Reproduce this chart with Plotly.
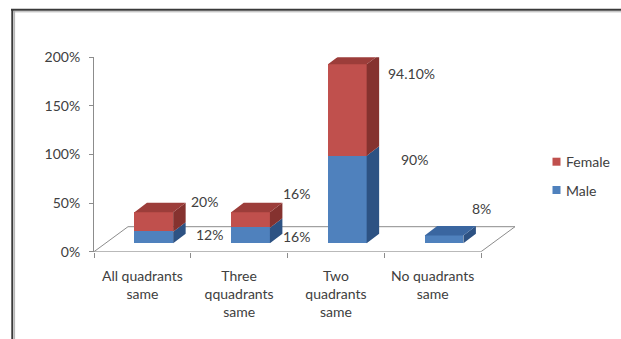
import plotly.graph_objects as go

# ---- data -------------------------------------------------------------
categories = ["All quadrants<br>same", "Three<br>qquadrants<br>same",
              "Two<br>quadrants<br>same", "No quadrants<br>same"]
male = [12, 16, 90, 8]
female = [20, 16, 94.1, 0]
y_ticks = [0, 50, 100, 150, 200]
y_tick_text = [f"{t}%" for t in y_ticks]
legend_names = ["Female", "Male"]

# per-label pixel nudges (dx, dy) for the value labels
male_label_nudge = [(8, -2), (-1, -6), (20, 35), (-6, 26)]
female_label_nudge = [(3, 16), (-1, 22), (7, 32), (0, 0)]

# ---- geometry (pixels) ------------------------------------------------
W, H = 621, 339
PL, PR, PT, PB = 94, 530, 57.3, 251.7
UX = 96.75                     # px per category
UY = (PB - PT) / 200.0         # px per percent
x_max = (PR - PL) / UX


def px2x(p):
    return p / UX


def px2y(p):
    return p / UY


FLOOR = (px2x(34), px2y(25))          # floor depth vector
BAR_W = px2x(38.7)
BAR_FRONT = 0.336                     # bar front position in floor depth
BAR_DEPTH = (px2x(12.5), px2y(9.5))   # bar depth vector
front_dx = FLOOR[0] * BAR_FRONT
front_dy = FLOOR[1] * BAR_FRONT

RED, RED_SIDE, RED_TOP = "#C0504D", "#85322F", "#9C3D3A"
BLUE, BLUE_SIDE, BLUE_TOP = "#4F81BD", "#2D5283", "#3A66A0"
TXT = "#404040"
AX = "#8C8C8C"
FONT = "Lato"

n = len(categories)
xc = [i + 0.5 + front_dx for i in range(n)]
male_base = [front_dy] * n
female_base = [front_dy + m for m in male]

fig = go.Figure()

# front faces
fig.add_trace(go.Bar(x=xc, y=male, base=male_base, width=BAR_W,
                     marker=dict(color=BLUE, line=dict(width=0)),
                     name="Male", showlegend=False, cliponaxis=False))
fig.add_trace(go.Bar(x=xc, y=female, base=female_base, width=BAR_W,
                     marker=dict(color=RED, line=dict(width=0)),
                     name="Female", showlegend=False, cliponaxis=False))


def side_faces(vals, bases):
    xs, ys = [], []
    ddx, ddy = BAR_DEPTH
    for x, v, b in zip(xc, vals, bases):
        if v <= 0:
            continue
        xr = x + BAR_W / 2
        xs += [xr, xr + ddx, xr + ddx, xr, xr, None]
        ys += [b, b + ddy, b + v + ddy, b + v, b, None]
    return xs, ys


def top_faces(vals, bases, is_top):
    xs, ys = [], []
    ddx, ddy = BAR_DEPTH
    for x, v, b, t in zip(xc, vals, bases, is_top):
        if v <= 0 or not t:
            continue
        xl, xr = x - BAR_W / 2, x + BAR_W / 2
        yt = b + v
        xs += [xl, xl + ddx, xr + ddx, xr, xl, None]
        ys += [yt, yt + ddy, yt + ddy, yt, yt, None]
    return xs, ys


male_is_top = [f <= 0 for f in female]
female_is_top = [f > 0 for f in female]

for (xs, ys), col in [
    (side_faces(male, male_base), BLUE_SIDE),
    (side_faces(female, female_base), RED_SIDE),
    (top_faces(male, male_base, male_is_top), BLUE_TOP),
    (top_faces(female, female_base, female_is_top), RED_TOP),
]:
    fig.add_trace(go.Scatter(x=xs, y=ys, mode="lines", fill="toself",
                             fillcolor=col, line=dict(width=0, color=col),
                             hoverinfo="skip", showlegend=False,
                             cliponaxis=False))


# value labels
def fmt(v):
    return f"{v:.0f}%" if float(v).is_integer() else f"{v:.2f}%"


ddx, ddy = BAR_DEPTH
for vals, bases, nudges in [(male, male_base, male_label_nudge),
                            (female, female_base, female_label_nudge)]:
    for x, v, b, (nx, ny) in zip(xc, vals, bases, nudges):
        if v <= 0:
            continue
        fig.add_annotation(x=x + BAR_W / 2 + ddx, y=b + v / 2 + ddy / 2,
                           text=fmt(v), showarrow=False,
                           xanchor="left", yanchor="middle",
                           xshift=nx, yshift=ny,
                           font=dict(family=FONT, size=14, color=TXT))

shapes = []
# floor parallelogram, drawn beneath the bars
fx, fy = FLOOR
shapes.append(dict(type="path", xref="x", yref="y", layer="below",
                   path=f"M 0,0 L {n},0 L {n + fx},{fy} L {fx},{fy} Z",
                   line=dict(color=AX, width=1), fillcolor="white"))

# legend swatches
leg_y = [161.7, 190.0]
leg_cols = [RED, BLUE]
for name, yy, col in zip(legend_names, leg_y, leg_cols):
    shapes.append(dict(type="rect", xref="paper", yref="paper",
                       x0=552.5 / W, x1=560.5 / W,
                       y0=1 - (yy + 4) / H, y1=1 - (yy - 4) / H,
                       line=dict(width=0), fillcolor=col))
    fig.add_annotation(xref="paper", yref="paper", x=564 / W, y=1 - yy / H,
                       text=name, showarrow=False, xanchor="left",
                       yanchor="middle",
                       font=dict(family=FONT, size=14, color=TXT))

# outer frame (top and left edges)
shapes += [
    dict(type="line", xref="paper", yref="paper", x0=11 / W, x1=1,
         y0=1 - 9.7 / H, y1=1 - 9.7 / H, line=dict(color="#3A3A3A", width=2)),
    dict(type="line", xref="paper", yref="paper", x0=13.5 / W, x1=1,
         y0=1 - 11.8 / H, y1=1 - 11.8 / H, line=dict(color="#B0B0B0", width=1)),
    dict(type="line", xref="paper", yref="paper", x0=12.3 / W, x1=12.3 / W,
         y0=1 - 9 / H, y1=0, line=dict(color="#3A3A3A", width=2)),
    dict(type="line", xref="paper", yref="paper", x0=14.6 / W, x1=14.6 / W,
         y0=1 - 11 / H, y1=0, line=dict(color="#B0B0B0", width=1)),
]

fig.update_layout(
    width=W, height=H,
    margin=dict(l=0, r=0, t=0, b=0, pad=0),
    paper_bgcolor="white", plot_bgcolor="white",
    barmode="overlay", bargap=0,
    showlegend=False,
    shapes=shapes,
    font=dict(family=FONT, size=14, color=TXT),
    xaxis=dict(domain=[PL / W, PR / W], range=[0, x_max], automargin=False,
               tickmode="array", tickvals=[i + 0.5 for i in range(n)],
               ticktext=categories, ticks="", showline=False,
               showgrid=False, zeroline=False, fixedrange=True,
               ticklabelstandoff=14,
               tickfont=dict(family=FONT, size=14, color=TXT),
               minor=dict(tickmode="array", tickvals=list(range(n + 1)),
                          ticks="outside", ticklen=5, tickwidth=1,
                          tickcolor=AX, showgrid=False)),
    yaxis=dict(domain=[1 - PB / H, 1 - PT / H], range=[0, 200],
               automargin=False,
               tickmode="array", tickvals=y_ticks, ticktext=y_tick_text,
               ticks="outside", ticklen=4, tickcolor=AX, showline=True,
               linecolor=AX, linewidth=1, showgrid=False, zeroline=False,
               fixedrange=True, ticklabelstandoff=6,
               tickfont=dict(family=FONT, size=14, color=TXT)),
)

fig.write_html("out.html", config={"displayModeBar": False})
